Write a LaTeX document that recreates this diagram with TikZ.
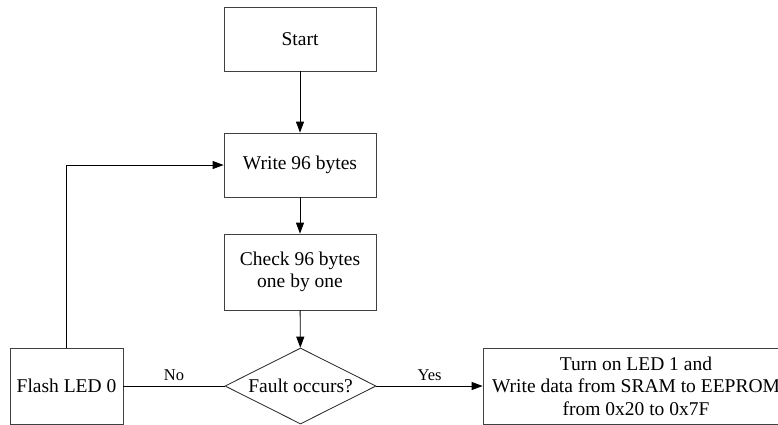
\documentclass[tikz,border=0pt]{standalone}
\usepackage{fontspec}
\setmainfont{Liberation Serif}
\usetikzlibrary{shapes.geometric,arrows.meta}
\begin{document}
\begin{tikzpicture}[x=1pt,y=-1pt,
  box/.style={draw=black!75,line width=0.8pt,rectangle,inner sep=0pt,align=center,
    font=\fontsize{19.5}{22.5}\selectfont},
  decision/.style={draw=black!85,line width=0.8pt,diamond,inner sep=0pt,
    shape aspect=1.99,minimum width=151pt,minimum height=76pt,
    font=\fontsize{19.5}{22.5}\selectfont},
  conn/.style={line width=0.9pt,black},
  arr/.style={conn,-{Triangle[length=11pt,width=8pt]}},
  lbl/.style={font=\fontsize{16.5}{19}\selectfont,inner sep=0pt}]
\useasboundingbox (0,0) rectangle (778,424);
\clip (0,0) rectangle (778,424);
% process steps
\node[box,minimum width=152pt,minimum height=64pt] (start) at (300,39) {Start};
\node[box,minimum width=152pt,minimum height=64pt] (write) at (300,165) {Write 96 bytes};
\node[box,minimum width=152pt,minimum height=76pt] (check) at (300,272) {Check 96 bytes\\one by one};
\node[decision] (fault) at (300.5,386) {Fault occurs?};
\node[box,minimum width=113pt,minimum height=76pt] (flash) at (66.5,386) {Flash LED 0};
\node[box,minimum width=306pt,minimum height=76pt] (save) at (636,386)
  {Turn on LED 1 and\\Write data from SRAM to EEPROM\\from 0x20 to 0x7F};
% connectors
\draw[arr] (start) -- (write);
\draw[arr] (write) -- (check);
\draw[arr] (check) -- (fault);
\draw[arr] (fault.east) -- node[lbl,above=5pt] {Yes} (save.west);
\draw[conn] (fault.west) -- node[lbl,above=5pt] {No} (flash.east);
\draw[arr] (flash.north) |- (write.west);
\end{tikzpicture}
\end{document}
